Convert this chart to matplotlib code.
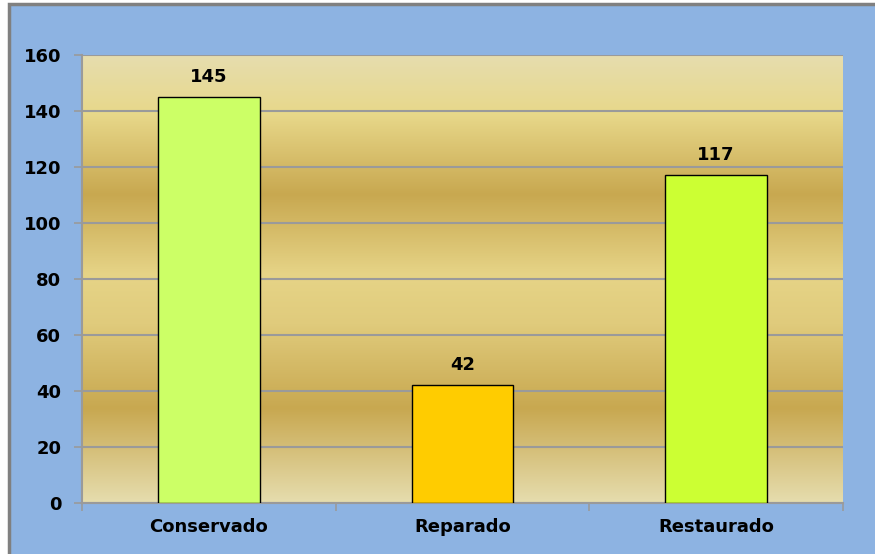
import matplotlib.pyplot as plt
import numpy as np
from matplotlib.colors import LinearSegmentedColormap
from matplotlib.patches import Rectangle

plt.rcParams['font.family'] = ['DejaVu Sans']
plt.rcParams['font.weight'] = 'bold'

categories = ['Conservado', 'Reparado', 'Restaurado']
counts = [145, 42, 117]
bar_colors = ['#CCFF66', '#FFCC00', '#CCFF33']
y_ticks = [0, 20, 40, 60, 80, 100, 120, 140, 160]

BLUE = '#8DB3E2'
GRID = '#9A9A9A'

fig = plt.figure(figsize=(8.75, 5.54), dpi=100, facecolor='white')
# chart area frame, kept behind the axes
fig.patches.append(Rectangle((8.5 / 875, -0.05), 1.1, 1 - 3.5 / 554 + 0.05,
                             transform=fig.transFigure, facecolor=BLUE,
                             edgecolor='#808080', linewidth=2.5, zorder=-10))

ax = fig.add_axes([82 / 875, 1 - 503 / 554, (843 - 82) / 875, (503 - 55) / 554])
ax.set_facecolor('none')

# gold striped background of the plot area (top -> bottom)
gold = LinearSegmentedColormap.from_list('gold', [
    (0.00, '#E6DDAE'),
    (0.13, '#E8D88A'),
    (0.31, '#C8A850'),
    (0.49, '#E6D487'),
    (0.60, '#E0CB7C'),
    (0.79, '#C8A850'),
    (1.00, '#E6DDAE'),
])
grad = np.linspace(0, 1, 256).reshape(-1, 1)
ax.imshow(grad, cmap=gold, aspect='auto', extent=[0, 1, 0, 1],
          transform=ax.transAxes, zorder=0, interpolation='bilinear')

x = np.arange(len(categories))
bars = ax.bar(x, counts, width=0.4, color=bar_colors, edgecolor='black',
              linewidth=1.0, zorder=3)

for rect, v in zip(bars, counts):
    ax.annotate(str(v), (rect.get_x() + rect.get_width() / 2, v),
                xytext=(0, 8), textcoords='offset points',
                ha='center', va='bottom', fontsize=13, fontweight='bold')

ax.set_xlim(-0.5, 2.5)
ax.set_ylim(0, 160)
ax.set_yticks(y_ticks)
ax.set_xticks(x, categories)
ax.set_xticks([-0.5, 0.5, 1.5, 2.5], minor=True)
ax.yaxis.grid(True, color=GRID, linewidth=1.5, zorder=1)
ax.set_axisbelow(True)

ax.tick_params(axis='y', labelsize=13, length=6, width=1.2, color=GRID, pad=9)
ax.tick_params(axis='x', which='major', labelsize=13, length=0, pad=11)
ax.tick_params(axis='x', which='minor', length=6, width=1.2, color=GRID)

for s in ['top', 'right']:
    ax.spines[s].set_visible(False)
for s in ['left', 'bottom']:
    ax.spines[s].set_color(GRID)
    ax.spines[s].set_linewidth(1.5)

plt.savefig('out.png', dpi=100, facecolor=fig.get_facecolor())
